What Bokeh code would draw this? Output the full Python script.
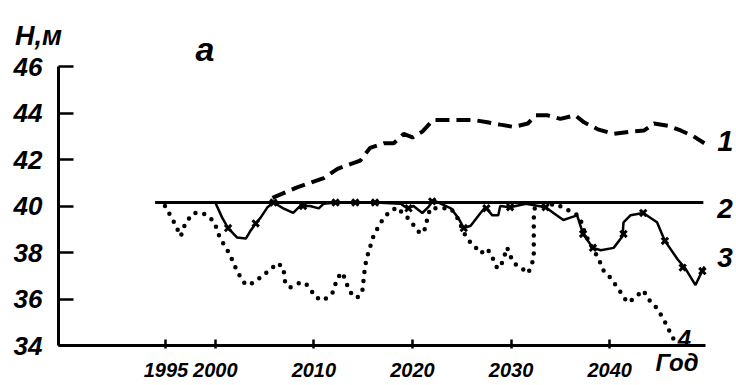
from bokeh.plotting import figure
from bokeh.models import Label, FixedTicker, LinearAxis
from bokeh.embed import file_html
from bokeh.resources import INLINE

# ---- data ----
x_ticks = [1995, 2000, 2010, 2020, 2030, 2040]
y_ticks = [34, 36, 38, 40, 42, 44, 46]

line1_year = [2005.8, 2008.3, 2011.0, 2012.4, 2013.7, 2014.7, 2015.7, 2017.1, 2018.1, 2019.1,
              2020.0, 2021.0, 2022.1, 2023.6, 2026.2, 2027.6, 2028.9, 2030.3, 2031.7, 2032.5,
              2033.7, 2035.0, 2036.5, 2037.4, 2038.8, 2040.4, 2042.1, 2043.5, 2044.5, 2045.9,
              2047.2, 2048.5, 2049.6]
line1_h = [40.35, 40.8, 41.2, 41.6, 41.8, 41.95, 42.5, 42.7, 42.7, 43.1,
           42.95, 43.2, 43.7, 43.7, 43.7, 43.6, 43.5, 43.4, 43.55, 43.9,
           43.9, 43.75, 43.9, 43.6, 43.3, 43.1, 43.2, 43.25, 43.55, 43.45,
           43.25, 43.0, 42.7]

line2_year = [1993.9, 2049.5]
line2_h = [40.15, 40.15]

line3_year = [2000.0, 2000.7, 2001.3, 2002.2, 2003.1, 2003.6, 2004.1, 2004.6, 2005.3, 2005.9,
              2006.9, 2007.9, 2008.6, 2009.6, 2010.5, 2011.0, 2012.2, 2014.2, 2016.2, 2018.8,
              2019.5, 2020.1, 2021.0, 2021.6, 2022.1, 2023.9, 2024.7, 2025.2, 2025.9, 2026.9,
              2027.4, 2028.1, 2028.7, 2028.9, 2029.9, 2031.5, 2033.5, 2034.3, 2035.3, 2036.0,
              2036.7, 2037.3, 2038.3, 2039.1, 2040.4, 2041.3, 2041.4, 2042.1, 2043.4, 2044.8,
              2045.6, 2046.9, 2047.7, 2048.7, 2049.6]
line3_h = [40.15, 39.5, 39.05, 38.65, 38.6, 38.95, 39.25, 39.5, 39.95, 40.15,
           39.9, 39.7, 40.0, 40.0, 39.9, 40.1, 40.15, 40.15, 40.15, 40.1,
           39.9, 40.0, 39.7, 39.95, 40.25, 39.9, 39.45, 39.05, 39.15, 39.7,
           39.95, 39.6, 39.6, 40.0, 39.95, 40.1, 39.95, 39.7, 39.4, 39.5,
           39.6, 38.8, 38.2, 38.1, 38.2, 38.7, 39.3, 39.6, 39.7, 39.3,
           38.5, 37.7, 37.3, 36.6, 37.4]

mark3_year = [2001.3, 2004.1, 2005.9, 2008.9, 2012.2, 2014.2, 2016.2, 2019.6, 2022.0, 2025.2,
              2027.5, 2029.9, 2033.5, 2037.3, 2038.3, 2041.4, 2043.4, 2045.6, 2047.4, 2049.4]
mark3_h = [39.05, 39.25, 40.15, 40.0, 40.15, 40.15, 40.15, 39.9, 40.2, 39.05,
           39.9, 39.95, 39.95, 38.8, 38.2, 38.8, 39.7, 38.5, 37.35, 37.2]

line4_year = [1994.9, 1995.7, 1996.5, 1997.0, 1997.8, 1998.7, 1999.5, 2000.0, 2000.3, 2000.8,
              2001.5, 2002.0, 2002.6, 2003.1, 2003.9, 2004.8, 2005.8, 2006.3, 2006.9, 2007.1,
              2007.6, 2008.4, 2009.1, 2009.6, 2010.2, 2011.0, 2011.9, 2012.4, 2012.9, 2013.4,
              2013.9, 2014.4, 2014.9, 2015.0, 2015.2, 2015.5, 2016.0, 2016.5, 2017.1, 2017.8,
              2018.5, 2019.0, 2019.6, 2020.3, 2020.8, 2021.3, 2021.5, 2021.8, 2023.9, 2024.6,
              2025.2, 2025.7, 2026.4, 2026.9, 2027.6, 2028.1, 2028.4, 2028.6, 2029.1, 2029.6,
              2029.9, 2030.3, 2031.0, 2031.7, 2032.0, 2032.3, 2032.3, 2032.3, 2032.3, 2032.3,
              2032.4, 2034.5, 2036.8, 2037.2, 2037.5, 2038.0, 2038.9, 2039.4, 2040.1, 2041.1,
              2041.8, 2042.4, 2043.4, 2044.1, 2044.8, 2045.5, 2046.2, 2046.7]
line4_h = [40.0, 39.4, 38.7, 39.3, 39.7, 39.7, 39.5, 39.2, 38.8, 38.4,
           37.9, 37.4, 36.9, 36.6, 36.7, 37.0, 37.35, 37.55, 37.35, 36.67,
           36.5, 36.67, 36.7, 36.45, 36.06, 35.94, 36.28, 36.92, 37.14, 36.58,
           36.15, 36.06, 36.28, 36.67, 37.44, 37.96, 38.65, 39.08, 39.5, 39.8,
           39.94, 39.68, 39.46, 39.08, 38.8, 39.03, 39.46, 39.9, 39.9, 39.46,
           38.86, 38.52, 38.22, 37.96, 38.17, 37.78, 37.53, 37.31, 37.57, 38.22,
           37.87, 37.53, 37.35, 37.1, 37.35, 37.78, 38.17, 38.6, 39.03, 39.46,
           39.9, 40.1, 39.6, 39.25, 38.8, 38.4, 37.7, 37.2, 36.9, 36.3,
           35.85, 36.0, 36.37, 35.9, 35.6, 35.1, 34.5, 34.1]

X_MIN, X_MAX = 1984.1, 2049.7
Y_MIN, Y_MAX = 34, 46
FONT = "Liberation Sans"

p = figure(width=736, height=385, x_range=(1978.22, 2052.86), y_range=(32.28, 48.84),
           x_axis_type=None, y_axis_type=None,
           output_backend="svg", toolbar_location=None,
           min_border_left=0, min_border_right=0, min_border_top=0, min_border_bottom=0)
p.outline_line_color = None
p.grid.visible = False
p.background_fill_color = "white"
p.border_fill_color = "white"

xaxis = LinearAxis(fixed_location=Y_MIN, bounds=(X_MIN, X_MAX), ticker=FixedTicker(ticks=x_ticks))
yaxis = LinearAxis(fixed_location=X_MIN, bounds=(Y_MIN, Y_MAX), ticker=FixedTicker(ticks=y_ticks))
for ax in (xaxis, yaxis):
    ax.axis_line_width = 3
    ax.axis_line_color = "black"
    ax.major_tick_line_width = 2.5
    ax.major_tick_line_color = "black"
    ax.minor_tick_line_color = None
    ax.major_label_text_font = FONT
    ax.major_label_text_font_style = "bold italic"
    ax.major_label_text_color = "black"
yaxis.major_tick_in = 15
yaxis.major_tick_out = 0
yaxis.major_label_standoff = 16
yaxis.major_label_text_font_size = "26px"
xaxis.major_tick_in = 6
xaxis.major_tick_out = 3
xaxis.major_label_standoff = 14
xaxis.major_label_text_font_size = "20px"
p.add_layout(xaxis, "below")
p.add_layout(yaxis, "left")

# series
p.line(line2_year, line2_h, line_color="black", line_width=3)
p.line(line1_year, line1_h, line_color="black", line_width=4, line_dash="14 7")
p.line(line3_year, line3_h, line_color="black", line_width=2.5)
p.scatter(mark3_year, mark3_h, marker="x", size=9, line_color="black", line_width=3)
p.line(line4_year, line4_h, line_color="black", line_width=4.5, line_dash="0 9", line_cap="round")

def lab(x, y, t, size, baseline="alphabetic"):
    p.add_layout(Label(x=x, y=y, text=t, text_font=FONT, text_font_style="bold italic",
                       text_font_size=size, text_color="black", text_baseline=baseline))

lab(1979.7, 47.3, "H,м", "27px")
lab(1998.0, 46.75, "а", "34px")
lab(2050.9, 42.8, "1", "29px")
lab(2050.9, 39.9, "2", "28px")
lab(2050.9, 37.8, "3", "28px")
lab(2046.9, 34.3, "4", "24px")
lab(2044.65, 33.85, "Год", "24px", baseline="top")

open("out.html", "w").write(file_html(p, INLINE))
